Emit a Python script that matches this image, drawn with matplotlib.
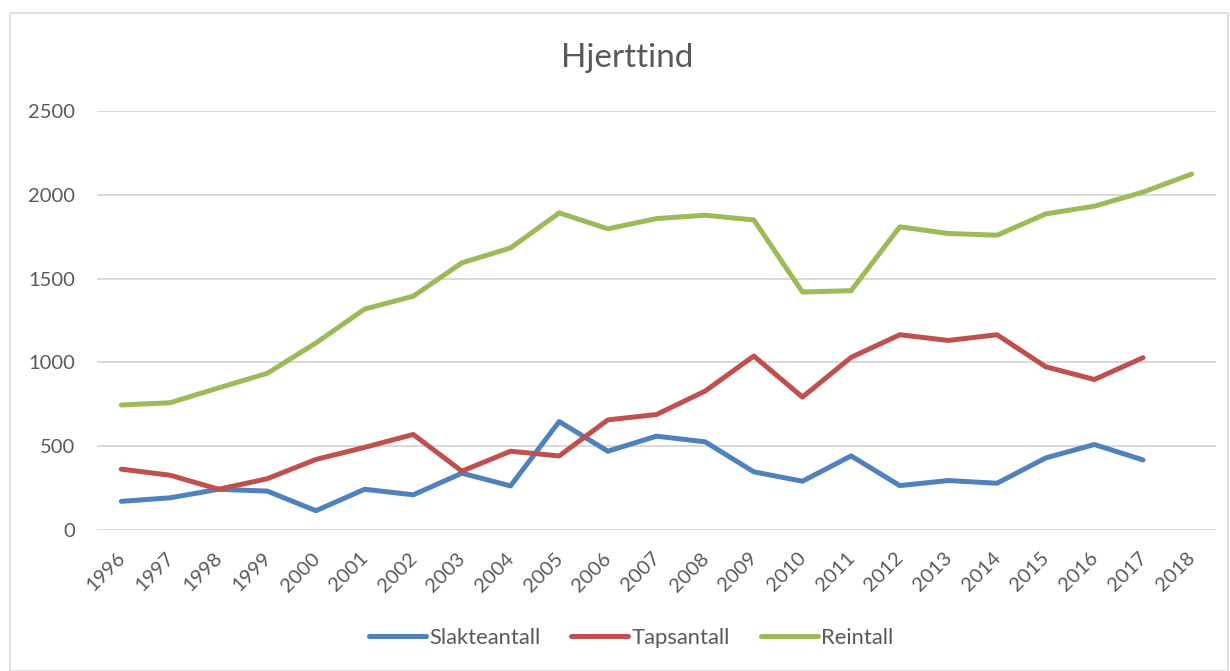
import matplotlib
matplotlib.use("Agg")
import matplotlib.pyplot as plt
import matplotlib.transforms as mtransforms
from matplotlib.patches import Rectangle

plt.rcParams['font.family'] = ['Lato', 'DejaVu Sans']

years = [str(y) for y in range(1996, 2019)]
slakteantall = [171, 192, 243, 232, 115, 243, 210, 339, 263, 647, 470,
                560, 526, 347, 291, 442, 265, 295, 279, 430, 510, 418]
tapsantall = [363, 327, 243, 306, 421, 493, 570, 351, 470, 442, 657,
              689, 829, 1038, 793, 1030, 1165, 1131, 1165, 974, 898, 1028]
reintall = [746, 759, 848, 935, 1116, 1318, 1395, 1594, 1683, 1892, 1797,
            1858, 1878, 1850, 1420, 1428, 1809, 1769, 1759, 1886, 1932,
            2016, 2124]
series = [
    ("Slakteantall", slakteantall, "#4f81bd"),
    ("Tapsantall", tapsantall, "#c0504d"),
    ("Reintall", reintall, "#9bbb59"),
]

W, H = 1230, 671
text_color = "#595959"
grid_color = "#d9d9d9"

fig = plt.figure(figsize=(W / 100, H / 100), dpi=100)
fig.patch.set_facecolor("white")

# outer chart frame
fig.patches.append(Rectangle((10 / W, 0), 1218 / W, 1 - 13 / H,
                             transform=fig.transFigure, fill=False,
                             edgecolor=grid_color, linewidth=1.2))

ax = fig.add_axes([97 / W, 1 - 530 / H, (1216 - 97) / W, (530 - 111) / H])

for name, vals, col in series:
    ax.plot(range(len(vals)), vals, color=col, linewidth=3.6,
            solid_capstyle="round", solid_joinstyle="round", label=name)

ax.set_xlim(-0.5, len(years) - 0.5)
ax.set_ylim(0, 2500)
ax.set_yticks(range(0, 2501, 500))
ax.set_xticks(range(len(years)))
ax.set_xticklabels(years, rotation=45, ha="right", va="top")
ax.grid(axis="y", color=grid_color, linewidth=1.4)
ax.set_axisbelow(True)
for s in ax.spines.values():
    s.set_visible(False)
ax.tick_params(axis="both", length=0, colors=text_color, labelsize=14.5)
ax.tick_params(axis="y", pad=16)
ax.tick_params(axis="x", pad=14)
shift = mtransforms.ScaledTranslation(5 / 72, 0, fig.dpi_scale_trans)
for lbl in ax.get_xticklabels():
    lbl.set_transform(lbl.get_transform() + shift)

fig.text(627 / W, 1 - 67 / H, "Hjerttind", ha="center", va="baseline",
         fontsize=24, color=text_color)

leg = fig.legend(loc="center", bbox_to_anchor=(631 / W, 1 - 638 / H),
                 ncol=3, frameon=False, fontsize=15.8, handlelength=2.6,
                 handletextpad=0.15, columnspacing=1.4)
for t in leg.get_texts():
    t.set_color(text_color)

fig.savefig("out.png", dpi=100)
